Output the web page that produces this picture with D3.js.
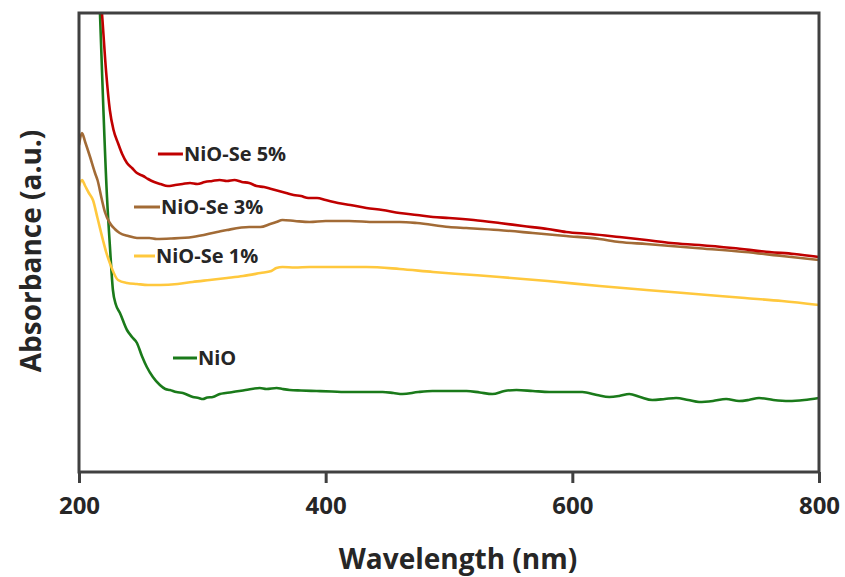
<!DOCTYPE html>
<html>
<head>
<meta charset="utf-8">
<script src="https://cdn.jsdelivr.net/npm/d3@7"></script>
<style>
  html, body { margin: 0; padding: 0; background: #fff; }
  svg { display: block; }
  text { font-family: "Open Sans", "DejaVu Sans", sans-serif; font-weight: 700; fill: #262626; }
</style>
</head>
<body>
<svg id="chart" width="845" height="577"></svg>
<script>
// ---- data (wavelength nm, absorbance a.u.) ----
const xTicks = [200, 400, 600, 800];

const wlSe5 = [212, 215, 218.6, 222, 225, 228, 231.6, 235, 238.9, 243, 247, 252, 256, 261, 266, 272, 278, 284, 290, 296, 302, 308, 314, 320, 326, 332, 338, 344, 350, 356, 362, 368, 374, 380, 386, 393, 400, 410, 420, 433, 446, 460, 474, 487, 500, 520, 541, 560, 580, 595, 615, 638, 660, 680, 703, 730, 760, 780, 800];
const absSe5 = [5.6, 5.1, 4.59, 4.0, 3.62, 3.42, 3.29, 3.18, 3.09, 3.04, 2.99, 2.96, 2.93, 2.90, 2.88, 2.86, 2.87, 2.88, 2.89, 2.88, 2.90, 2.91, 2.92, 2.91, 2.92, 2.90, 2.89, 2.86, 2.85, 2.83, 2.81, 2.79, 2.77, 2.76, 2.74, 2.74, 2.72, 2.69, 2.67, 2.64, 2.62, 2.59, 2.57, 2.55, 2.54, 2.52, 2.49, 2.46, 2.43, 2.40, 2.38, 2.35, 2.32, 2.29, 2.27, 2.24, 2.20, 2.18, 2.15];

const wlSe3 = [200, 202.4, 205, 209, 213, 215, 218.6, 221, 225, 229, 233, 240, 247, 257, 263, 275, 292, 312, 320, 338, 347, 355, 360, 365, 375, 387, 400, 419, 440, 460, 474, 500, 514, 540, 568, 595, 622, 638, 660, 700, 740, 770, 800];
const absSe3 = [3.27, 3.39, 3.30, 3.15, 2.99, 2.92, 2.72, 2.60, 2.49, 2.43, 2.39, 2.36, 2.34, 2.34, 2.33, 2.335, 2.35, 2.40, 2.42, 2.45, 2.45, 2.48, 2.50, 2.52, 2.51, 2.50, 2.51, 2.51, 2.50, 2.50, 2.49, 2.45, 2.44, 2.42, 2.39, 2.36, 2.33, 2.30, 2.28, 2.24, 2.20, 2.16, 2.12];

const wlSe1 = [200, 202.4, 205, 208, 211.3, 215, 219.4, 222, 225, 231.6, 239, 247, 256, 266, 280, 292, 306, 320, 333, 347, 356, 360, 365, 375, 387, 410, 433, 460, 487, 514, 541, 580, 622, 660, 700, 740, 770, 800];
const absSe1 = [2.86, 2.92, 2.86, 2.79, 2.72, 2.54, 2.32, 2.20, 2.09, 1.92, 1.89, 1.88, 1.87, 1.87, 1.88, 1.90, 1.92, 1.94, 1.96, 1.99, 2.01, 2.04, 2.05, 2.045, 2.05, 2.05, 2.05, 2.03, 2.00, 1.975, 1.95, 1.91, 1.86, 1.82, 1.78, 1.74, 1.71, 1.67];

const wlNiO = [212, 217, 222.7, 225.1, 227.5, 230, 233.2, 238.9, 243, 247, 251, 255, 259.9, 265.6, 270, 273.7, 279, 284.2, 292.3, 297, 300.4, 304, 308.5, 314.2, 319, 324.7, 335, 346.6, 352, 360.3, 365, 370.9, 380, 392.7, 405, 419.4, 432, 446.2, 455, 462.3, 475, 486.6, 500, 514.2, 525, 535.2, 545, 554.7, 568, 581.4, 595, 608.1, 620, 630, 638, 646.2, 655, 664.8, 675, 684.2, 694, 702.8, 714, 724.7, 735.2, 743, 751.4, 763, 775.7, 788, 800];
const absNiO = [6.4, 4.59, 2.75, 2.25, 1.82, 1.67, 1.59, 1.42, 1.35, 1.29, 1.16, 1.05, 0.95, 0.87, 0.83, 0.82, 0.80, 0.79, 0.75, 0.74, 0.73, 0.745, 0.75, 0.78, 0.79, 0.80, 0.82, 0.84, 0.83, 0.84, 0.83, 0.82, 0.815, 0.81, 0.805, 0.80, 0.80, 0.80, 0.79, 0.78, 0.80, 0.81, 0.81, 0.81, 0.795, 0.78, 0.81, 0.82, 0.81, 0.80, 0.80, 0.80, 0.77, 0.75, 0.76, 0.78, 0.75, 0.72, 0.73, 0.74, 0.72, 0.70, 0.71, 0.73, 0.71, 0.72, 0.74, 0.72, 0.71, 0.72, 0.74];

const seriesNames = ["NiO-Se 5%", "NiO-Se 3%", "NiO-Se 1%", "NiO"];
const seriesColors = ["#C00000", "#A26B36", "#FFC83D", "#1A7A1A"];
// inline legend anchors (wavelength, absorbance) where each key line starts
const labelWl = [264.0, 244.6, 244.6, 276.2];
const labelAbs = [3.18, 2.65, 2.16, 1.14];
const labelLineLen = [25, 26, 21, 24];

// ---- layout ----
const svg = d3.select("#chart");
const mLeft = 79, mRight = 819, mTop = 13, mBottom = 472;

const x = d3.scaleLinear().domain([200, 800]).range([mLeft, mRight]);
const y = d3.scaleLinear().domain([0, 4.59]).range([mBottom, mTop]);

svg.append("defs").append("clipPath").attr("id", "plotclip")
  .append("rect").attr("x", mLeft).attr("y", mTop).attr("width", mRight - mLeft).attr("height", mBottom - mTop);

const series = [
  { wl: wlSe5, abs: absSe5 },
  { wl: wlSe3, abs: absSe3 },
  { wl: wlSe1, abs: absSe1 },
  { wl: wlNiO, abs: absNiO }
];

const line = d3.line().x(d => x(d[0])).y(d => y(d[1])).curve(d3.curveMonotoneX);

const g = svg.append("g").attr("clip-path", "url(#plotclip)");
// draw order: NiO, 1%, 3%, 5% (5% on top)
[3, 2, 1, 0].forEach(i => {
  const s = series[i];
  const pts = s.wl.map((w, k) => [w, s.abs[k]]);
  g.append("path").datum(pts)
    .attr("fill", "none")
    .attr("stroke", seriesColors[i])
    .attr("stroke-width", 2.6)
    .attr("stroke-linejoin", "round")
    .attr("d", line);
});

// frame
const axisColor = "#404040";
svg.append("rect").attr("x", mLeft).attr("y", mTop)
  .attr("width", mRight - mLeft).attr("height", mBottom - mTop)
  .attr("fill", "none").attr("stroke", axisColor).attr("stroke-width", 3);

// x axis ticks and labels
const xAxis = d3.axisBottom(x).tickValues(xTicks).tickSize(11).tickSizeOuter(0).tickPadding(14);
const ax = svg.append("g").attr("transform", `translate(0,${mBottom})`).call(xAxis);
ax.select(".domain").remove();
ax.selectAll(".tick line").attr("stroke", axisColor).attr("stroke-width", 3);
ax.selectAll(".tick text")
  .style("font-family", '"Open Sans", sans-serif')
  .style("font-weight", 700)
  .style("font-size", "24px")
  .attr("fill", "#262626");

// axis titles
svg.append("text")
  .attr("x", 458).attr("y", 569)
  .attr("text-anchor", "middle")
  .style("font-size", "28px")
  .text("Wavelength (nm)");

svg.append("text")
  .attr("transform", "translate(41,251) rotate(-90)")
  .attr("text-anchor", "middle")
  .style("font-size", "28px")
  .text("Absorbance (a.u.)");

// inline legend
seriesNames.forEach((name, i) => {
  const lx = x(labelWl[i]);
  const ly = y(labelAbs[i]);
  svg.append("line")
    .attr("x1", lx).attr("x2", lx + labelLineLen[i])
    .attr("y1", ly).attr("y2", ly)
    .attr("stroke", seriesColors[i]).attr("stroke-width", 3);
  svg.append("text")
    .attr("x", lx + labelLineLen[i] + 1).attr("y", ly + 7)
    .style("font-size", "20px")
    .text(name);
});
</script>
</body>
</html>
